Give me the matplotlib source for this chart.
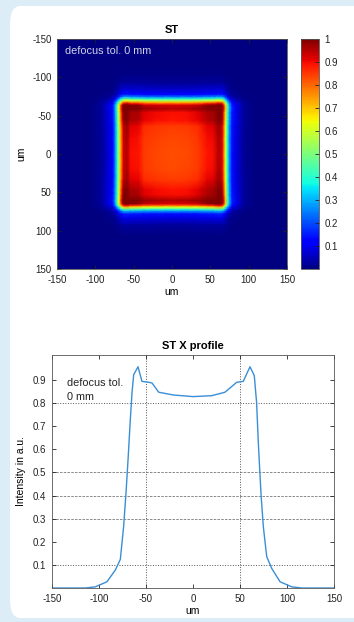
import numpy as np
import matplotlib
matplotlib.use("Agg")
import matplotlib.pyplot as plt
from matplotlib.patches import FancyBboxPatch

plt.rcParams['font.family'] = ['Liberation Sans', 'DejaVu Sans']
plt.rcParams['axes.unicode_minus'] = False

# ---- data: X profile ----
pos_um = [-150, -114.5, -103.9, -91.5, -82.6, -77.3, -73.8, -71.3, -69.1, -66.7,
          -64.9, -63.1, -58.5, -54.3, -47.1, -43.6, -36.5, -21, 0, 20, 34, 46.5,
          53.5, 60.6, 65.2, 67.7, 69.5, 72.3, 74.8, 78.4, 83.7, 92.6, 105, 115.6, 150]
intensity = [0.0, 0.0, 0.005, 0.027, 0.078, 0.124, 0.266, 0.41, 0.555, 0.728,
             0.844, 0.923, 0.957, 0.894, 0.89, 0.887, 0.847, 0.835, 0.828, 0.832,
             0.847, 0.89, 0.894, 0.957, 0.919, 0.80, 0.627, 0.41, 0.266, 0.136,
             0.085, 0.027, 0.005, 0.0, 0.0]
center_value = 0.828
cbar_ticks = [0.1, 0.2, 0.3, 0.4, 0.5, 0.6, 0.7, 0.8, 0.9, 1]
cbar_labels = ['0.1', '0.2', '0.3', '0.4', '0.5', '0.6', '0.7', '0.8', '0.9', '1']
axis_ticks = [-150, -100, -50, 0, 50, 100, 150]
prof_yticks = [0.1, 0.2, 0.3, 0.4, 0.5, 0.6, 0.7, 0.8, 0.9]
grid_dotted = [0.1, 0.8]
grid_dashed = [0.3, 0.4, 0.5]
grid_v = [-50, 50]

W, H = 354, 622
fig = plt.figure(figsize=(W / 100, H / 100), dpi=100)
fig.patch.set_facecolor('#dcedf8')
panel = FancyBboxPatch((10 / W, 4 / H), 400 / W, 612 / H,
                       boxstyle="round,pad=0,rounding_size=0.03",
                       transform=fig.transFigure, facecolor='white',
                       edgecolor='none', zorder=-10)
fig.patches.append(panel)

tick_kw = dict(labelsize=7, colors='#222222', direction='in', length=3, width=0.6, pad=4)

# ---- top heatmap ----
ax1 = fig.add_axes([57 / W, (H - 269) / H, 230 / W, 230 / H])
p = np.array(intensity)
Z = np.outer(p, p) / center_value
X, Y = np.meshgrid(pos_um, pos_um)
mesh = ax1.pcolormesh(X, Y, Z, cmap='jet', vmin=0, vmax=1, shading='gouraud')
ax1.set_xlim(-150, 150)
ax1.set_ylim(150, -150)
ax1.set_xticks(axis_ticks)
ax1.set_yticks(axis_ticks)
ax1.tick_params(**tick_kw)
ax1.tick_params(top=True, right=True)
ax1.set_title('ST', fontsize=8, fontweight='bold', pad=4)
ax1.set_xlabel('um', fontsize=7.5, labelpad=2)
ax1.set_ylabel('um', fontsize=7.5, labelpad=4)
ax1.text(-140, -135, 'defocus tol. 0 mm', color='#d0d4e8', fontsize=7.8,
         va='center', ha='left')
for s in ax1.spines.values():
    s.set_color('#555555')
    s.set_linewidth(0.6)

cax = fig.add_axes([301 / W, (H - 269) / H, 18 / W, 230 / H])
cb = fig.colorbar(mesh, cax=cax, ticks=cbar_ticks)
cb.ax.set_yticklabels(cbar_labels)
cb.ax.tick_params(labelsize=7, colors='#222222', direction='in', length=3, width=0.6, pad=4)
cb.outline.set_linewidth(0.6)
cb.outline.set_edgecolor('#555555')

# ---- bottom profile ----
ax2 = fig.add_axes([52 / W, (H - 588) / H, 282 / W, 233 / H])
ax2.plot(pos_um, intensity, color='#3a8ed6', lw=1.0)
for gy in grid_dotted:
    ax2.axhline(gy, color='#555555', lw=0.7, ls=':', zorder=0)
for gy in grid_dashed:
    ax2.axhline(gy, color='#777777', lw=0.6, ls=(0, (3, 1.5)), zorder=0)
for gx in grid_v:
    ax2.axvline(gx, color='#555555', lw=0.7, ls=':', zorder=0)
ax2.set_xlim(-150, 150)
ax2.set_ylim(0, 1.008)
ax2.set_xticks(axis_ticks)
ax2.set_yticks(prof_yticks)
ax2.tick_params(**tick_kw)
ax2.tick_params(top=True, right=True)
ax2.set_title('ST X profile', fontsize=8, fontweight='bold', pad=4)
ax2.set_xlabel('um', fontsize=7.5, labelpad=2)
ax2.set_ylabel('Intensity in a.u.', fontsize=7.5, labelpad=5)
ax2.text(-134, 0.857, 'defocus tol.\n0 mm', fontsize=7.8, va='center', ha='left',
         color='#222222', linespacing=1.45)
for s in ax2.spines.values():
    s.set_color('#555555')
    s.set_linewidth(0.6)

fig.savefig('out.png', dpi=100, facecolor=fig.get_facecolor())
